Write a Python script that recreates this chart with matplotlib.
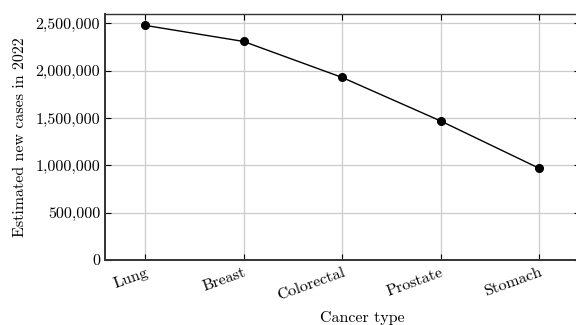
import matplotlib
matplotlib.use("Agg")
import matplotlib.pyplot as plt
from matplotlib.ticker import FuncFormatter

plt.rcParams['font.family'] = ['cmr10', 'DejaVu Serif']
plt.rcParams['axes.formatter.use_mathtext'] = True

cancer_types = ["Lung", "Breast", "Colorectal", "Prostate", "Stomach"]
new_cases = [2480000, 2310000, 1930000, 1470000, 970000]
y_ticks = [0, 500000, 1000000, 1500000, 2000000, 2500000]

W, H = 576, 325
fig = plt.figure(figsize=(W/100, H/100), dpi=100)
x0, x1, ytop, ybot = 105, 580, 14, 260
ax = fig.add_axes([x0/W, (H-ybot)/H, (x1-x0)/W, (ybot-ytop)/H])

xs = list(range(len(cancer_types)))
ax.plot(xs, new_cases, color='black', lw=1.0, marker='o', ms=5.5, zorder=3)

ax.set_xlim(-0.406, 4.416)
ax.set_ylim(0, 2600000)
ax.set_xticks(xs)
ax.set_xticklabels(cancer_types, rotation=20, ha='right', rotation_mode='anchor', fontsize=11.5)
ax.set_yticks(y_ticks)
ax.yaxis.set_major_formatter(FuncFormatter(lambda v, p: f"{int(v):,}"))
ax.tick_params(axis='y', labelsize=11.5, direction='in', length=4, width=0.8, right=True)
ax.tick_params(axis='x', direction='in', length=4, width=0.8, top=True, pad=4)
ax.grid(True, color='#cccccc', lw=0.9)
ax.set_axisbelow(True)
for s in ax.spines.values():
    s.set_color('#333333')
    s.set_linewidth(1.0)
ax.spines['left'].set_linewidth(1.4)
ax.spines['bottom'].set_linewidth(1.4)

ax.set_ylabel("Estimated new cases in 2022", fontsize=11.5, labelpad=6)
ax.set_xlabel("Cancer type", fontsize=11.5, labelpad=2)
ax.xaxis.set_label_coords((362-x0)/(x1-x0), -(318-ybot)/(ybot-ytop) + 0.03)

fig.savefig("out.png", dpi=100)
